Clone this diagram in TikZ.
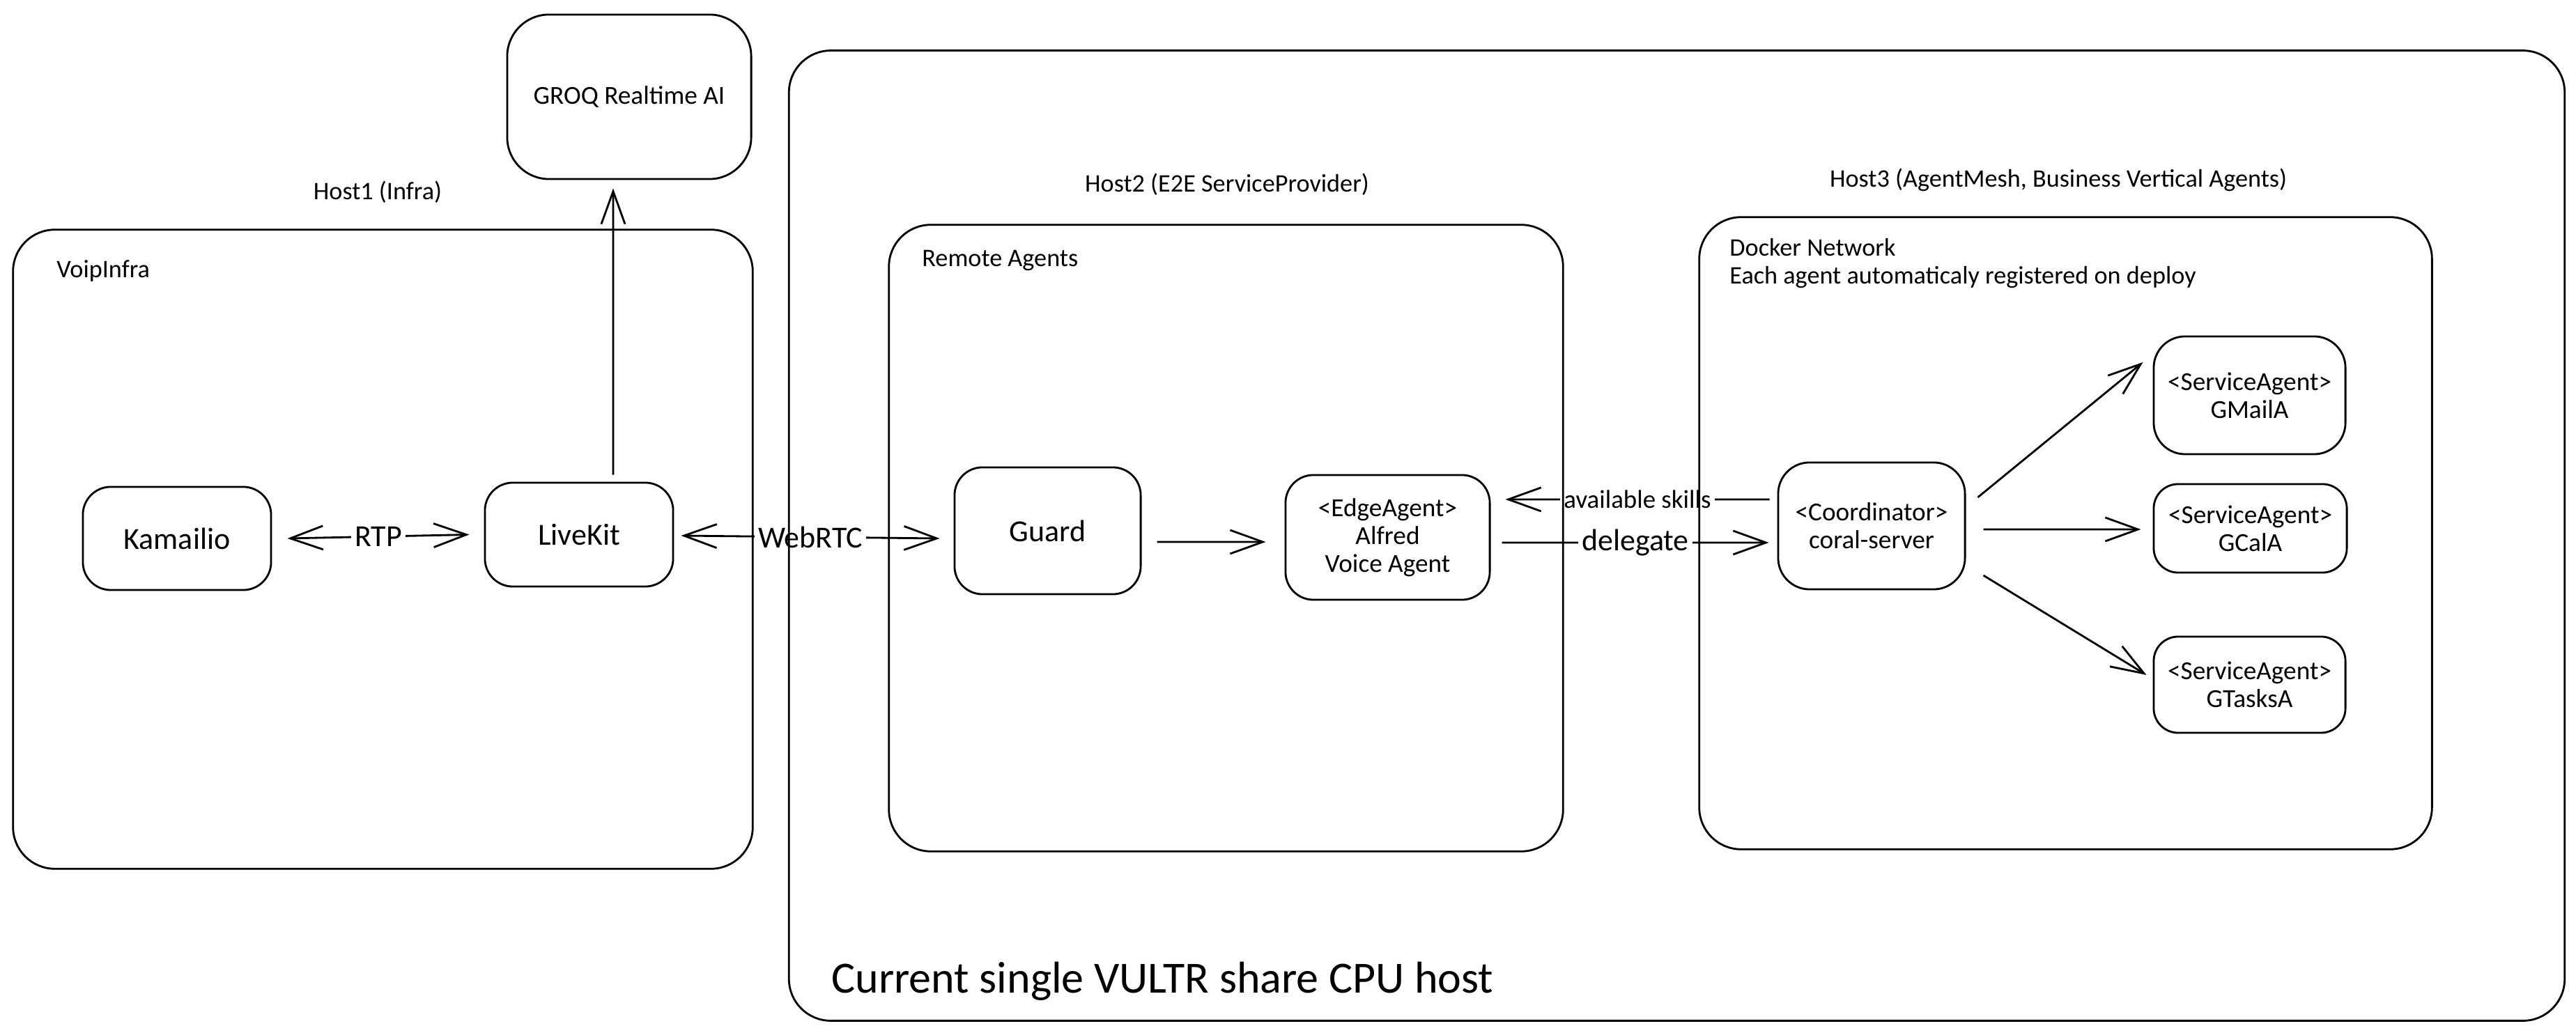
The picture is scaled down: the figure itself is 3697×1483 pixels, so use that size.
\documentclass[tikz,border=0pt]{standalone}
\usepackage{fontspec}
\setmainfont{Carlito}
\usetikzlibrary{arrows.meta}
\begin{document}
\begin{tikzpicture}[x=0.01cm,y=-0.01cm, line width=0.8pt,
  box/.style={draw, rounded corners=0.4cm, inner sep=0pt, align=center,
    font=\fontsize{10.6}{11.4}\selectfont},
  bigbox/.style={box, font=\fontsize{12.5}{15}\selectfont},
  cont/.style={draw, rounded corners=0.6cm, inner sep=0pt},
  lbl/.style={inner sep=0pt, font=\fontsize{10.3}{11.7}\selectfont},
  tip/.tip={Straight Barb[length=4.7mm,width=3.4mm]},
  arr/.style={-tip},
  biarr/.style={tip-tip},
  elbl/.style={fill=white, inner sep=1.5pt, font=\fontsize{12.5}{15}\selectfont},
  slbl/.style={fill=white, inner sep=1.5pt, font=\fontsize{10.5}{12}\selectfont}
]
\useasboundingbox (0,0) rectangle (3697,1483);

% nodes
\node[box, rounded corners=0.6cm, minimum width=3.50cm, minimum height=2.36cm] (groq) at (903,139) {GROQ Realtime AI};
\node[bigbox, minimum width=2.70cm, minimum height=1.48cm] (kam) at (254,773) {Kamailio};
\node[bigbox, minimum width=2.70cm, minimum height=1.49cm] (live) at (831,767.5) {LiveKit};
\node[bigbox, minimum width=2.67cm, minimum height=1.82cm] (guard) at (1503.5,762) {Guard};
\node[box, minimum width=2.93cm, minimum height=1.79cm] (edge) at (1991.5,771.5) {<EdgeAgent>\\Alfred\\Voice Agent};
\node[box, rounded corners=0.45cm, minimum width=2.68cm, minimum height=1.82cm] (coord) at (2686,755) {<Coordinator>\\coral-server};
\node[box, rounded corners=0.45cm, minimum width=2.75cm, minimum height=1.69cm] (gmail) at (3228.5,567.5) {<ServiceAgent>\\GMailA};
\node[box, rounded corners=0.35cm, minimum width=2.77cm, minimum height=1.27cm] (gcal) at (3229.5,758.5) {<ServiceAgent>\\GCalA};
\node[box, rounded corners=0.35cm, minimum width=2.75cm, minimum height=1.38cm] (gtasks) at (3228.5,983) {<ServiceAgent>\\GTasksA};

% labels
\node[lbl, anchor=base] (h1) at (542,287) {Host1 (Infra)};
\node[lbl, anchor=base west] (voip) at (80,399) {VoipInfra};
\node[lbl, anchor=base] (h2) at (1761,276) {Host2 (E2E ServiceProvider)};
\node[lbl, anchor=base west] (remote) at (1322,383) {Remote Agents};
\node[lbl, anchor=base] (h3) at (2954,269) {Host3 (AgentMesh, Business Vertical Agents)};
\node[lbl, anchor=base west] (dock1) at (2481,368) {Docker Network};
\node[lbl, anchor=base west] (dock2) at (2481,408) {Each agent automaticaly registered on deploy};
\node[inner sep=0pt, anchor=base west, font=\fontsize{18.2}{21}\selectfont] (cur) at (1192,1425) {Current single VULTR share CPU host};

% connectors
\draw[biarr] ([xshift=0.22cm]kam.east) -- ([xshift=-0.21cm]live.west) node[midway, elbl] {RTP};
\draw[arr] ([shift={(0.49cm,0.10cm)}]live.north) -- ([shift={(-0.23cm,-0.12cm)}]groq.south);
\draw[biarr] ([shift={(0.10cm,-0.015cm)}]live.east) -- ([shift={(-0.20cm,-0.11cm)}]guard.west) node[midway, elbl] {WebRTC};
\draw[arr] ([shift={(0.22cm,-0.16cm)}]guard.east) -- ([shift={(-0.27cm,-0.065cm)}]edge.west);
\draw[arr] ([shift={(-0.11cm,0.38cm)}]coord.west) -- ([shift={(0.21cm,0.545cm)}]edge.east) node[midway, slbl] {available skills};
\draw[arr] ([shift={(0.16cm,-0.075cm)}]edge.east) -- ([shift={(-0.12cm,-0.24cm)}]coord.west) node[midway, elbl] {delegate};
\draw[arr] ([shift={(0.17cm,0.41cm)}]coord.east) -- ([shift={(-0.14cm,0.475cm)}]gmail.west);
\draw[arr] ([shift={(0.25cm,-0.05cm)}]coord.east) -- ([shift={(-0.17cm,-0.015cm)}]gcal.west);
\draw[arr] ([shift={(0.25cm,-0.71cm)}]coord.east) -- ([shift={(-0.09cm,0.14cm)}]gtasks.west);

% containers
\node[cont, minimum width=25.47cm, minimum height=13.92cm] (outer) at (2406.5,769) {};
\node[cont, minimum width=10.61cm, minimum height=9.17cm] (host1) at (549.5,788.5) {};
\node[cont, minimum width=9.67cm, minimum height=8.99cm] (remotebox) at (1759.5,772.5) {};
\node[cont, minimum width=10.51cm, minimum height=9.07cm] (docker) at (2964.5,765.5) {};
\end{tikzpicture}
\end{document}
